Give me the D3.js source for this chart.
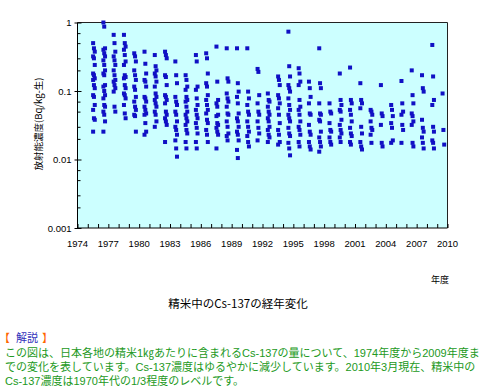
<!DOCTYPE html>
<html>
<head>
<meta charset="utf-8">
<script src="https://cdn.jsdelivr.net/npm/d3@7"></script>
<style>
  body { margin: 0; background: #fff; }
  svg { display: block; }
</style>
</head>
<body>
<div id="chart"></div>
<script>
// fiscal years (one column of samples per year)
const years = [1975, 1976, 1977, 1978, 1979, 1980, 1981, 1982, 1983, 1984, 1985, 1986,
  1987, 1988, 1989, 1990, 1991, 1992, 1993, 1994, 1995, 1996, 1997, 1998, 1999, 2000,
  2001, 2002, 2003, 2004, 2005, 2006, 2007, 2008, 2009];

// Cs-137 in polished rice, Bq/kg (raw)
const cs137 = [
  [0.50, 0.42, 0.375, 0.32, 0.30, 0.24, 0.18, 0.17, 0.153, 0.145, 0.122, 0.11, 0.087, 0.082, 0.0625, 0.053, 0.040, 0.038, 0.0255],
  [1.0, 0.87, 0.42, 0.40, 0.355, 0.32, 0.28, 0.24, 0.20, 0.18, 0.17, 0.122, 0.116, 0.10, 0.087, 0.078, 0.0625, 0.059, 0.05, 0.045, 0.036, 0.0255],
  [0.66, 0.5, 0.375, 0.32, 0.28, 0.24, 0.20, 0.17, 0.145, 0.137, 0.122, 0.11, 0.098, 0.059, 0.05],
  [0.66, 0.5, 0.445, 0.40, 0.335, 0.27, 0.24, 0.17, 0.16, 0.153, 0.122, 0.11, 0.092, 0.087, 0.078, 0.0625, 0.047, 0.040],
  [0.355, 0.32, 0.27, 0.20, 0.17, 0.145, 0.116, 0.104, 0.082, 0.07, 0.059, 0.053, 0.045, 0.043, 0.0255],
  [0.375, 0.25, 0.18, 0.145, 0.137, 0.116, 0.082, 0.078, 0.07, 0.059, 0.053, 0.047, 0.045, 0.034, 0.0255, 0.023],
  [0.335, 0.23, 0.20, 0.18, 0.163, 0.137, 0.116, 0.092, 0.082, 0.074, 0.066, 0.059, 0.05, 0.045, 0.036, 0.030],
  [0.375, 0.335, 0.30, 0.17, 0.16, 0.122, 0.087, 0.082, 0.074, 0.066, 0.05, 0.045, 0.040, 0.036, 0.032, 0.018],
  [0.27, 0.17, 0.13, 0.082, 0.07, 0.0625, 0.05, 0.045, 0.036, 0.030, 0.027, 0.023, 0.019, 0.0145, 0.011],
  [0.17, 0.145, 0.116, 0.104, 0.082, 0.074, 0.07, 0.059, 0.05, 0.045, 0.040, 0.036, 0.032, 0.027, 0.024, 0.018, 0.0145],
  [0.335, 0.27, 0.116, 0.104, 0.078, 0.0625, 0.053, 0.045, 0.040, 0.034, 0.029, 0.024, 0.018, 0.0145],
  [0.355, 0.30, 0.18, 0.13, 0.116, 0.087, 0.074, 0.0625, 0.053, 0.047, 0.038, 0.034, 0.027, 0.023, 0.018],
  [0.445, 0.137, 0.074, 0.066, 0.059, 0.045, 0.043, 0.034, 0.032, 0.029, 0.0255, 0.023, 0.0145],
  [0.42, 0.153, 0.137, 0.092, 0.078, 0.07, 0.059, 0.047, 0.045, 0.036, 0.030, 0.024, 0.022, 0.019],
  [0.42, 0.13, 0.098, 0.082, 0.066, 0.047, 0.040, 0.036, 0.030, 0.0255, 0.023, 0.019, 0.0138, 0.0105],
  [0.42, 0.098, 0.078, 0.0625, 0.05, 0.045, 0.036, 0.030, 0.0255, 0.022, 0.018, 0.0155],
  [0.21, 0.19, 0.087, 0.066, 0.05, 0.045, 0.036, 0.029, 0.024, 0.019],
  [0.092, 0.074, 0.07, 0.059, 0.05, 0.045, 0.040, 0.036, 0.030, 0.027, 0.023, 0.021, 0.018],
  [0.163, 0.145, 0.122, 0.087, 0.078, 0.066, 0.056, 0.045, 0.034, 0.027, 0.023, 0.018, 0.0165],
  [0.735, 0.23, 0.163, 0.122, 0.11, 0.098, 0.078, 0.0625, 0.053, 0.045, 0.040, 0.036, 0.029, 0.024, 0.022, 0.0175, 0.0145, 0.0115],
  [0.215, 0.18, 0.137, 0.122, 0.074, 0.059, 0.053, 0.045, 0.036, 0.030, 0.027, 0.023, 0.018, 0.0155],
  [0.137, 0.11, 0.082, 0.066, 0.047, 0.045, 0.032, 0.0255, 0.023, 0.018, 0.0155, 0.014],
  [0.42, 0.13, 0.11, 0.066, 0.047, 0.045, 0.038, 0.036, 0.0255, 0.021, 0.018, 0.0155, 0.013],
  [0.066, 0.05, 0.047, 0.034, 0.027, 0.0255, 0.021, 0.018, 0.0165],
  [0.18, 0.074, 0.0625, 0.053, 0.05, 0.038, 0.032, 0.027, 0.024, 0.021, 0.018],
  [0.22, 0.074, 0.066, 0.053, 0.045, 0.036, 0.029, 0.024, 0.022, 0.018, 0.0165],
  [0.13, 0.074, 0.066, 0.056, 0.030, 0.024, 0.018, 0.0155, 0.014],
  [0.053, 0.05, 0.045, 0.036, 0.029, 0.027, 0.023, 0.0175],
  [0.122, 0.047, 0.043, 0.032, 0.0175, 0.0155],
  [0.0625, 0.053, 0.043, 0.034, 0.029, 0.019, 0.0175],
  [0.14, 0.066, 0.05, 0.045, 0.032, 0.027, 0.0175],
  [0.20, 0.087, 0.066, 0.047, 0.043, 0.036, 0.032, 0.0175, 0.0155],
  [0.17, 0.11, 0.098, 0.038, 0.029, 0.0255, 0.021, 0.0175, 0.0145],
  [0.47, 0.163, 0.074, 0.0625, 0.030, 0.0255, 0.019, 0.0175, 0.0145],
  [0.092, 0.027, 0.0165]
];

const yTickValues = [0.001, 0.01, 0.1, 1];
const yTickLabels = ['0.001', '0.01', '0.1', '1'];
const yMinorFactors = [2, 3, 5, 7];
const xLabelYears = [1974, 1977, 1980, 1983, 1986, 1989, 1992, 1995, 1998, 2001, 2004, 2007, 2010];

const yTitle = '放射能濃度(Bq/kg-生)';
const xTitle = '年度';
const chartTitle = '精米中のCs-137の経年変化';
const noteHead = ['【', '解説', '】'];
const noteLines = [
  'この図は、日本各地の精米1㎏あたりに含まれるCs-137の量について、1974年度から2009年度ま',
  'での変化を表しています。Cs-137濃度はゆるやかに減少しています。2010年3月現在、精米中の',
  'Cs-137濃度は1970年代の1/3程度のレベルです。'
];

const W = 480, H = 389;
const plot = { left: 77.5, right: 447.5, top: 22.5, bottom: 228 };
const FONT = 'Arial, "Liberation Sans", "Noto Sans CJK JP", sans-serif';
const JFONT = '"Noto Sans CJK JP", sans-serif';
// latin font first keeps the line box compact; kana/kanji fall back to Noto CJK
const NOTEFONT = '"Liberation Sans", "Noto Sans CJK JP", sans-serif';

const svg = d3.select('#chart').append('svg')
  .attr('width', W).attr('height', H)
  .attr('viewBox', [0, 0, W, H]);

const x = d3.scaleLinear().domain([1974, 2010]).range([plot.left, plot.right]);
const y = d3.scaleLog().domain([0.001, 1]).range([plot.bottom, plot.top]);

// plot background + frame
svg.append('rect')
  .attr('x', plot.left).attr('y', plot.top)
  .attr('width', plot.right - plot.left).attr('height', plot.bottom - plot.top)
  .attr('fill', '#ccffff');
svg.append('path')
  .attr('d', `M${plot.left},${plot.top}H${plot.right}V${plot.bottom}`)
  .attr('fill', 'none').attr('stroke', '#222').attr('stroke-width', 1);

// points
const points = [];
years.forEach((yr, i) => {
  cs137[i].forEach((v, j) => points.push({ year: yr, value: v, k: j % 3 }));
});
const S = 4;
svg.append('g').selectAll('rect')
  .data(points)
  .join('rect')
  .attr('x', d => x(d.year + 0.6 + (d.k - 1) * 0.08) - S / 2)
  .attr('y', d => y(d.value) - S / 2)
  .attr('width', S).attr('height', S)
  .attr('fill', '#1010c4');

// x axis: tick every year, inward
const xAxis = svg.append('g')
  .attr('transform', `translate(0,${plot.bottom})`)
  .call(d3.axisTop(x)
    .tickValues(d3.range(1974, 2011))
    .tickSize(4)
    .tickFormat(''));
xAxis.select('.domain').attr('stroke', '#000').attr('d', `M${plot.left},0H${plot.right}`);
xAxis.selectAll('.tick line').attr('stroke', '#000');

svg.append('g').selectAll('text')
  .data(xLabelYears)
  .join('text')
  .attr('x', d => x(d))
  .attr('y', plot.bottom + 19)
  .attr('text-anchor', 'middle')
  .attr('font-family', FONT)
  .attr('font-size', 9.5)
  .attr('fill', '#000')
  .text(d => d);

// y axis: majors + minor ticks, inward
const minorTicks = [];
yTickValues.slice(0, -1).forEach(t => yMinorFactors.forEach(f => minorTicks.push(t * f)));
const yAxis = svg.append('g')
  .attr('transform', `translate(${plot.left},0)`)
  .call(d3.axisRight(y)
    .tickValues(yTickValues.concat(minorTicks))
    .tickSize(3)
    .tickFormat(''));
yAxis.select('.domain').attr('stroke', '#000').attr('d', `M0,${plot.top}V${plot.bottom}`);
yAxis.selectAll('.tick line')
  .attr('stroke', '#000')
  .attr('x1', d => yTickValues.includes(d) ? -3 : 0)
  .attr('x2', d => yTickValues.includes(d) ? 4 : 3);

svg.append('g').selectAll('text')
  .data(yTickValues)
  .join('text')
  .attr('x', plot.left - 6)
  .attr('y', d => y(d) + 3.5)
  .attr('text-anchor', 'end')
  .attr('font-family', FONT)
  .attr('font-size', 9.5)
  .attr('fill', '#000')
  .text((d, i) => yTickLabels[i]);

// axis titles
svg.append('text')
  .attr('transform', `translate(42,124) rotate(-90)`)
  .attr('text-anchor', 'middle')
  .attr('font-family', JFONT)
  .attr('font-size', 9.5)
  .attr('fill', '#000')
  .text(yTitle);

svg.append('text')
  .attr('x', 440).attr('y', 283)
  .attr('text-anchor', 'middle')
  .attr('font-family', JFONT)
  .attr('font-size', 9)
  .attr('fill', '#000')
  .text(xTitle);

svg.append('text')
  .attr('x', 238).attr('y', 308)
  .attr('text-anchor', 'middle')
  .attr('font-family', JFONT)
  .attr('font-size', 11.5)
  .attr('fill', '#000')
  .text(chartTitle);

// 解説 block: orange brackets, blue word
const headX = [-1, 16, 42];
const headColor = ['#ff6600', '#3333bb', '#ff6600'];
svg.append('g').selectAll('text')
  .data(noteHead)
  .join('text')
  .attr('x', (d, i) => headX[i])
  .attr('y', 342)
  .attr('font-family', NOTEFONT)
  .attr('font-size', 11)
  .attr('fill', (d, i) => headColor[i])
  .text(d => d);

svg.append('g').selectAll('text')
  .data(noteLines)
  .join('text')
  .attr('x', 5)
  .attr('y', (d, i) => 357 + i * 14)
  .attr('font-family', NOTEFONT)
  .attr('font-size', 11)
  .attr('fill', '#229922')
  .text(d => d);
</script>
</body>
</html>
